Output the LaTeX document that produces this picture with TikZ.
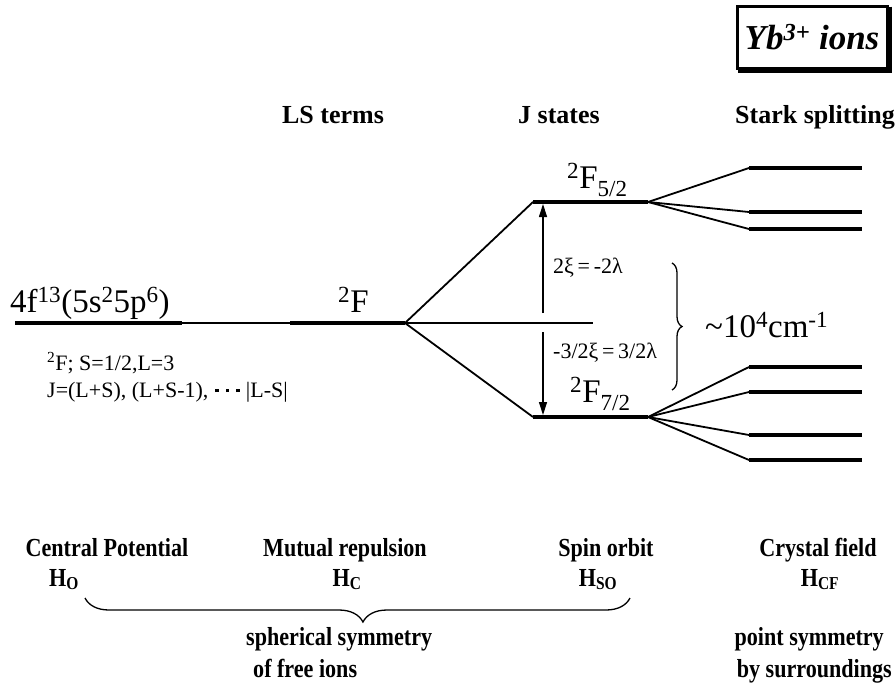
\documentclass[tikz,border=0pt]{standalone}
\usepackage{fontspec}
\setmainfont{Liberation Serif}
\newfontfamily\condfont{Liberation Serif}[FakeStretch=0.85]
\usetikzlibrary{decorations.pathreplacing,arrows.meta}
\newcommand{\sqdot}{\hspace{7pt}\rule[5pt]{3.5pt}{3.5pt}}
\begin{document}
\begin{tikzpicture}[x=1pt,y=-1pt,
  lvl/.style={line width=4pt},
  thinl/.style={line width=1.4pt},
  fan/.style={line width=1.8pt},
  arr/.style={line width=1.2pt,-{Triangle[length=13pt,width=8pt]}},
  hdr/.style={font=\fontsize{26}{30}\selectfont\bfseries, anchor=base},
  big/.style={font=\fontsize{33}{36}\selectfont, anchor=base west, inner sep=0pt},
  small/.style={font=\fontsize{22}{26}\selectfont, anchor=base west, inner sep=0pt},
  bot/.style={font=\fontsize{26}{30}\selectfont\condfont\bfseries, anchor=base, inner sep=0pt},
]
\useasboundingbox (0,0) rectangle (896,689);

% title box
\node[draw, line width=3pt, minimum width=150pt, minimum height=62pt,
  font=\fontsize{35}{40}\selectfont\bfseries\itshape] (title) at (812,37) {Yb\textsuperscript{3+} ions};
\draw[line width=2.5pt] ([xshift=2pt,yshift=-2pt]title.north east) -- ([xshift=2pt,yshift=-2pt]title.south east) -- ([xshift=2pt,yshift=-2pt]title.south west);

% headers
\node[hdr] (hls) at (333,123) {LS terms};
\node[hdr] (hj) at (559,123) {J states};
\node[hdr] (hst) at (815,123) {Stark splitting};

% coordinates of levels
\coordinate (L0a) at (15,323);
\coordinate (L0b) at (182,323);
\coordinate (LSa) at (290,323);
\coordinate (LSb) at (405,323);
\coordinate (C) at (593,323);
\coordinate (Ua) at (533,202);
\coordinate (Ub) at (648,202);
\coordinate (Da) at (533,417);
\coordinate (Db) at (648,417);

\draw[thinl] (L0a) -- (C);
\draw[lvl] (L0a) -- (L0b);
\draw[lvl] (LSa) -- (LSb);
\draw[fan] (LSb) -- (Ua);
\draw[fan] (LSb) -- (Da);
\draw[lvl] (Ua) -- (Ub);
\draw[lvl] (Da) -- (Db);

% spin-orbit arrow
\coordinate (A1) at (543,204);
\coordinate (A2) at (543,313);
\coordinate (A3) at (543,332);
\coordinate (A4) at (543,415);
\draw[arr] (A2) -- (A1);
\draw[arr] (A3) -- (A4);

% Stark splitting
\foreach \n/\y in {u1/168,u2/212,u3/229}{
  \coordinate (\n a) at (749,\y);
  \coordinate (\n b) at (862,\y);
  \draw[fan] (Ub) -- (\n a);
  \draw[lvl] (\n a) -- (\n b);
}
\foreach \n/\y in {d1/367,d2/392,d3/435,d4/460}{
  \coordinate (\n a) at (749,\y);
  \coordinate (\n b) at (862,\y);
  \draw[fan] (Db) -- (\n a);
  \draw[lvl] (\n a) -- (\n b);
}

% labels
\node[big] (cfg) at (10,312) {4f\textsuperscript{13}(5s\textsuperscript{2}5p\textsuperscript{6})};
\node[big] (t2f) at (338,312) {\textsuperscript{2}F};
\node[big] (f52) at (567,188) {\textsuperscript{2}F\raisebox{-8pt}{\fontsize{23}{24}\selectfont 5/2}};
\node[big] (f72) at (570,402) {\textsuperscript{2}F\raisebox{-8pt}{\fontsize{23}{24}\selectfont 7/2}};
\node[small] (xi1) at (553,273) {2ξ\,=\,-2λ};
\node[small] (xi2) at (553,358) {-3/2ξ\,=\,3/2λ};
\node[small] (sl) at (47,370) {\textsuperscript{2}F; S=1/2,L=3};
\node[small] (jl) at (47,397) {J=(L+S), (L+S-1),\sqdot\sqdot\sqdot\hspace{6pt}|L-S|};

% right brace
\coordinate (Bt) at (672,263);
\coordinate (Bb) at (672,390);
\draw[line width=1.3pt, decorate, decoration={brace, amplitude=10pt}] (Bt) -- (Bb);
\node[big] (wn) at (705,337) {\textasciitilde 10\textsuperscript{4}cm\textsuperscript{-1}};

% bottom labels
\node[bot] (b1) at (107,556) {Central Potential};
\node[bot] (b2) at (345,556) {Mutual repulsion};
\node[bot] (b3) at (606,556) {Spin orbit};
\node[bot] (b4) at (818,556) {Crystal field};
\node[bot] (h1) at (64,586) {H\textsubscript{O}};
\node[bot] (h2) at (347,586) {H\textsubscript{C}};
\node[bot] (h3) at (598,586) {H\textsubscript{SO}};
\node[bot] (h4) at (820,586) {H\textsubscript{CF}};

\coordinate (Cr) at (630,598);
\coordinate (Cl) at (85,598);
\draw[line width=1.3pt, decorate, decoration={brace, amplitude=24pt, aspect=0.49}] (Cr) -- (Cl);

\node[bot, anchor=base west] (s1) at (246,645) {spherical symmetry};
\node[bot, anchor=base west] (s2) at (253,677) {of free ions};
\node[bot, anchor=base east] (p1) at (884,645) {point symmetry};
\node[bot, anchor=base east] (p2) at (892,677) {by surroundings};
\end{tikzpicture}
\end{document}
